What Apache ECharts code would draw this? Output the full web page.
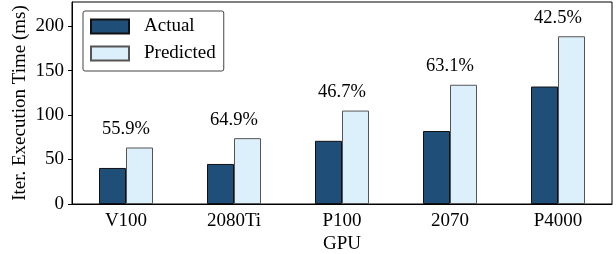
<!DOCTYPE html>
<html>
<head>
<meta charset="utf-8">
<script src="https://cdn.jsdelivr.net/npm/echarts@6/dist/echarts.min.js"></script>
<style>
  html, body { margin: 0; padding: 0; background: #fff; }
  #chart { width: 616px; height: 254px; }
</style>
</head>
<body>
<div id="chart"></div>
<script>
// GPU names and iteration times (ms)
var gpus = ['V100', '2080Ti', 'P100', '2070', 'P4000'];
var actual = [40.5, 45, 71, 82, 132];
var predicted = [63.5, 74, 105, 134, 188.5];
var errLabels = ['55.9%', '64.9%', '46.7%', '63.1%', '42.5%'];
var yTicks = [0, 50, 100, 150, 200];

var font = 'Liberation Serif';
var fs = 19;
var myChart = echarts.init(document.getElementById('chart'));

var option = {
    animation: false,
    textStyle: { fontFamily: font, color: '#000' },
    grid: {
        left: 72, right: 4, top: 2, bottom: 50,
        outerBoundsMode: 'none',
        containLabel: false,
        show: true, borderColor: '#000', borderWidth: 1
    },
    legend: {
        left: 83, top: 11,
        orient: 'vertical',
        icon: 'rect',
        itemWidth: 38, itemHeight: 14, itemGap: 8,
        padding: [6, 8, 8, 7],
        borderColor: '#444', borderWidth: 1, borderRadius: 2,
        textStyle: { fontFamily: font, fontSize: fs, color: '#000', padding: [0, 0, 0, 10] },
        data: ['Actual', 'Predicted']
    },
    xAxis: {
        type: 'category',
        data: gpus,
        name: 'GPU',
        nameLocation: 'middle',
        nameGap: 31,
        nameMoveOverlap: false,
        nameTextStyle: { fontFamily: font, fontSize: fs, color: '#000' },
        axisLine: { lineStyle: { color: '#000', width: 1 } },
        axisTick: { alignWithLabel: true, length: 4, lineStyle: { color: '#000' } },
        axisLabel: { fontFamily: font, fontSize: fs, color: '#000', margin: 8 }
    },
    yAxis: {
        type: 'value',
        min: 0, max: 227,
        name: 'Iter. Execution Time (ms)',
        nameLocation: 'middle',
        nameGap: 42,
        nameMoveOverlap: false,
        nameTextStyle: { fontFamily: font, fontSize: fs, color: '#000' },
        axisLine: { show: true, lineStyle: { color: '#000', width: 1 } },
        axisTick: { show: true, length: 4, customValues: yTicks, lineStyle: { color: '#000' } },
        axisLabel: { fontFamily: font, fontSize: fs, color: '#000', margin: 8, customValues: yTicks },
        splitLine: { show: false }
    },
    series: [
        {
            name: 'Actual',
            type: 'bar',
            data: actual,
            barWidth: 27,
            barGap: '0%',
            itemStyle: { color: '#1f4e79', borderColor: '#111', borderWidth: 1 }
        },
        {
            name: 'Predicted',
            type: 'bar',
            data: predicted,
            barWidth: 27,
            itemStyle: { color: '#dcf0fc', borderColor: '#555', borderWidth: 1 },
            label: {
                show: true,
                position: 'top',
                offset: [-13.5, -4],
                fontFamily: font,
                fontSize: 18.5,
                color: '#000',
                formatter: function (p) { return errLabels[p.dataIndex]; }
            }
        }
    ]
};

myChart.setOption(option);
window.addEventListener('resize', function () {
    myChart.resize();
});
</script>
</body>
</html>
